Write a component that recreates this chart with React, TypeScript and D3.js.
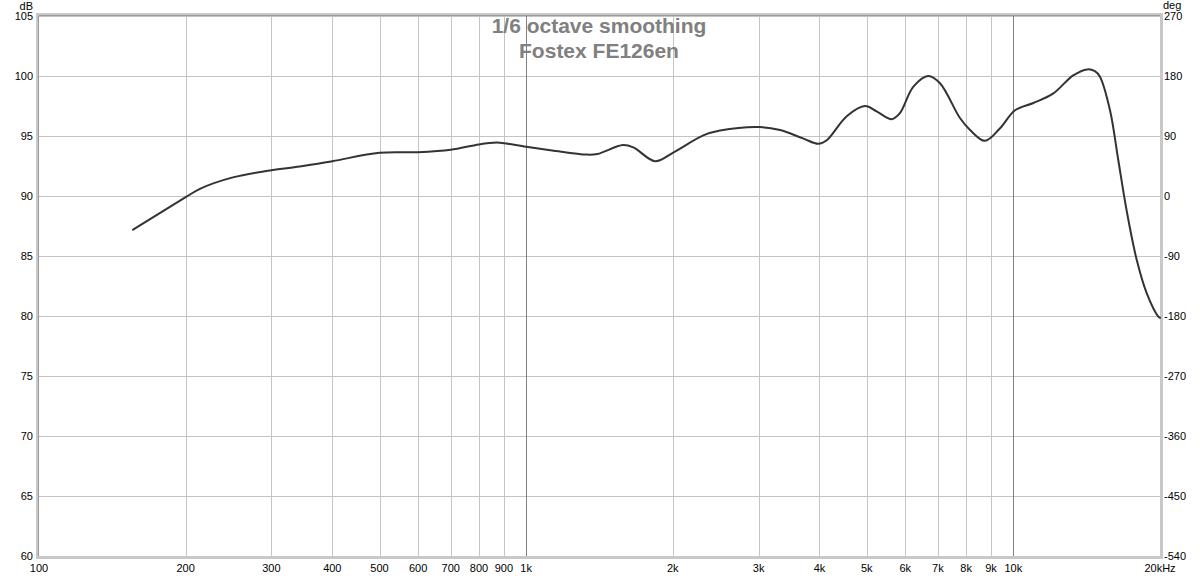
import React from "react";
import * as d3 from "d3";

const freqs: number[] = [
  156, 200, 214, 250, 300, 343, 400, 500, 600, 700, 800, 870, 900, 1000, 1130, 1330, 1400,
  1580, 1660, 1840, 2000, 2310, 2500, 3000, 3320, 3700, 3980, 4140, 4550, 4960, 5240, 5630,
  5850, 6230, 6690, 7070, 7770, 8150, 8740, 9390, 10080, 10990, 12080, 13270, 14180, 14700, 15050,
  15790, 16420, 17080, 17910, 18780, 19840, 20000,
];
const spl: number[] = [
  87.2, 89.9, 90.6, 91.55, 92.15, 92.45, 92.9, 93.6, 93.65, 93.85, 94.3, 94.45, 94.4, 94.1,
  93.8, 93.45, 93.5, 94.25, 94.05, 92.9, 93.6, 95.05, 95.45, 95.75, 95.5, 94.8, 94.35, 94.65,
  96.65, 97.5, 97.05, 96.4, 96.9, 99.1, 100.0, 99.4, 96.5, 95.5, 94.6, 95.65, 97.15, 97.75,
  98.55, 100.05, 100.55, 100.4, 99.95, 97.15, 93.0, 88.8, 84.7, 81.9, 79.95, 79.85,
];

const gridFreqs: number[] = [
  200, 300, 400, 500, 600, 700, 800, 900, 1000, 2000, 3000, 4000, 5000, 6000, 7000, 8000,
  9000, 10000,
];
const majorFreqs: number[] = [1000, 10000];
const freqTicks: number[] = [
  100, 200, 300, 400, 500, 600, 700, 800, 900, 1000, 2000, 3000, 4000, 5000, 6000, 7000,
  8000, 9000, 10000, 20000,
];
const freqLabels: string[] = [
  "100", "200", "300", "400", "500", "600", "700", "800", "900", "1k", "2k", "3k", "4k", "5k",
  "6k", "7k", "8k", "9k", "10k", "20kHz",
];
const dbTicks: number[] = [105, 100, 95, 90, 85, 80, 75, 70, 65, 60];
const degTicks: number[] = [270, 180, 90, 0, -90, -180, -270, -360, -450, -540];
const titleLines: string[] = ["1/6 octave smoothing", "Fostex FE126en"];

const W = 1200;
const H = 578;
const L = 39;
const R = 1160;
const T = 16;
const B = 556;

export default function App() {
  const x = d3.scaleLog().domain([100, 20000]).range([L, R]);
  const y = d3.scaleLinear().domain([60, 105]).range([B, T]);
  const yDeg = d3.scaleLinear().domain([-540, 270]).range([B, T]);

  const pts: [number, number][] = freqs.map((f, i) => [x(f), y(spl[i])]);
  const line = d3
    .line<[number, number]>()
    .x((d) => d[0])
    .y((d) => d[1])
    .curve(d3.curveCatmullRom.alpha(0.5));

  const font = "'Liberation Sans', Arial, sans-serif";

  return (
    <svg
      width={W}
      height={H}
      style={{ position: "absolute", left: 0, top: 0, background: "#fff" }}
      fontFamily={font}
    >
      <rect x={0} y={0} width={W} height={H} fill="#fff" />
      {dbTicks.map((t) => (
        <line key={"h" + t} x1={L} x2={R} y1={Math.round(y(t)) + 0.5} y2={Math.round(y(t)) + 0.5} stroke="#c4c4c4" strokeWidth={1} />
      ))}
      {gridFreqs.map((f) => (
        <line
          key={"v" + f}
          x1={Math.round(x(f)) + 0.5}
          x2={Math.round(x(f)) + 0.5}
          y1={T}
          y2={B}
          stroke={majorFreqs.includes(f) ? "#808080" : "#c4c4c4"}
          strokeWidth={1}
        />
      ))}
      <rect x={L - 1.5} y={T - 1.5} width={R - L + 3} height={B - T + 3} fill="none" stroke="#c8c8c8" strokeWidth={3} />
      <line x1={L - 0.5} x2={L - 0.5} y1={T} y2={B} stroke="#9a9a9a" strokeWidth={1} />
      <line x1={L} x2={R} y1={T - 0.5} y2={T - 0.5} stroke="#9a9a9a" strokeWidth={1} />
      <path d={line(pts) || ""} fill="none" stroke="#333333" strokeWidth={2} strokeLinejoin="round" strokeLinecap="round" />
      <text x={33} y={10} textAnchor="end" fontSize={11} fill="#000">dB</text>
      {dbTicks.map((t) => (
        <text key={"l" + t} x={33} y={y(t)} dy="0.36em" textAnchor="end" fontSize={11} fill="#000">
          {t}
        </text>
      ))}
      <text x={1163} y={9} textAnchor="start" fontSize={11} fill="#000">deg</text>
      {degTicks.map((t) => (
        <text key={"r" + t} x={1164} y={yDeg(t)} dy="0.36em" textAnchor="start" fontSize={11} fill="#000">
          {t}
        </text>
      ))}
      {freqTicks.map((f, i) => (
        <text key={"b" + f} x={x(f)} y={572} textAnchor="middle" fontSize={11} fill="#000">
          {freqLabels[i]}
        </text>
      ))}
      {titleLines.map((s, i) => (
        <text key={"t" + i} x={599} y={33 + i * 25} textAnchor="middle" fontSize={21} fontWeight="bold" fill="#808080">
          {s}
        </text>
      ))}
    </svg>
  );
}
